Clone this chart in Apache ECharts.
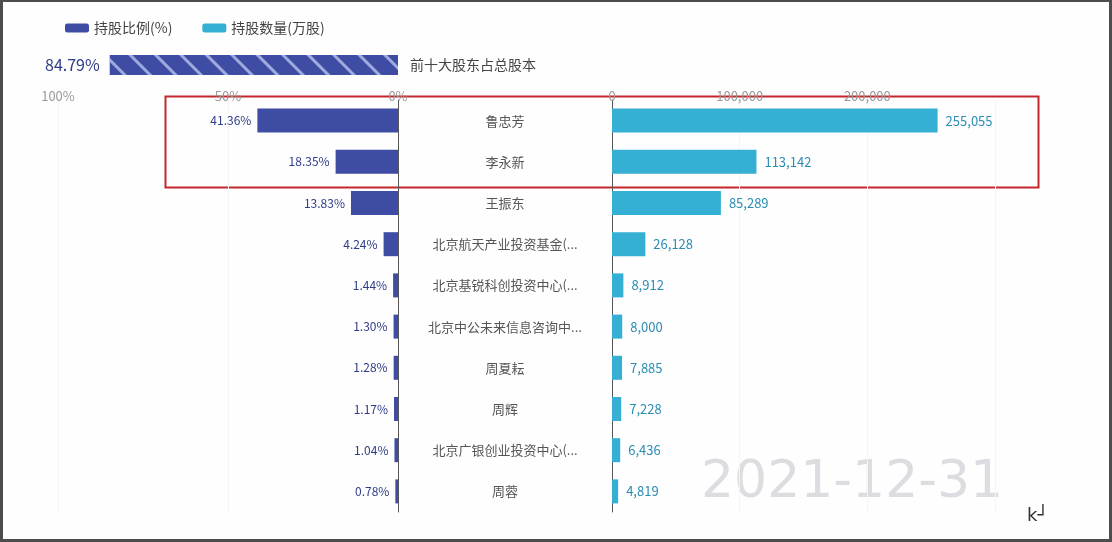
<!DOCTYPE html>
<html><head><meta charset="utf-8">
<script src="https://cdn.jsdelivr.net/npm/echarts@6/dist/echarts.min.js"></script>
<style>
html,body{margin:0;padding:0;background:#fff;}
#c{width:1112px;height:542px;box-sizing:border-box;border:3px solid #4d4d4d;border-top-width:2px;background:#fefeff;}
</style></head>
<body><div id="c"></div>
<script>
const names = ['鲁忠芳','李永新','王振东','北京航天产业投资基金(...','北京基锐科创投资中心(...','北京中公未来信息咨询中...','周夏耘','周辉','北京广银创业投资中心(...','周蓉'];
const ratio = [41.36,18.35,13.83,4.24,1.44,1.30,1.28,1.17,1.04,0.78];
const shares = [255055,113142,85289,26128,8912,8000,7885,7228,6436,4819];
const totalLabel = ['前十大股东占总股本'];
const totalRatio = [84.79];
const seriesNames = ['持股比例(%)','持股数量(万股)'];
const dateText = '2021-12-31';

const BLUE = '#3e4da3', CYAN = '#35afd3';
const fmt = v => String(v).replace(/\B(?=(\d{3})+(?!\d))/g, ',');
const font = 'Noto Sans CJK SC';

const chart = echarts.init(document.getElementById('c'));
chart.setOption({
  textStyle:{fontFamily:font},
  legend:{data:seriesNames, left:57, top:14, itemWidth:24, itemHeight:9, itemGap:30,
    textStyle:{fontSize:14,color:'#444',fontFamily:font}},
  grid:[
    {left:55, top:98, width:340, height:412},
    {left:609, top:98, width:383, height:412},
    {left:55, top:53, width:340, height:20}
  ],
  xAxis:[
    {gridIndex:0, type:'value', inverse:true, min:0, max:100, interval:50, position:'top',
     axisLabel:{formatter:'{value}%', color:'#999', fontSize:13, margin:-3},
     axisLine:{show:false}, axisTick:{show:false},
     splitLine:{show:true, lineStyle:{color:'#f4f5f8'}}},
    {gridIndex:1, type:'value', min:0, max:300000, interval:100000, position:'top',
     axisLabel:{formatter:v=>fmt(v), color:'#999', fontSize:13, margin:-3, showMaxLabel:false},
     axisLine:{show:false}, axisTick:{show:false},
     splitLine:{show:true, lineStyle:{color:'#f4f5f8'}}},
    {gridIndex:2, type:'value', inverse:true, min:0, max:100, show:false}
  ],
  yAxis:[
    {gridIndex:0, type:'category', data:names, inverse:true, position:'right',
     axisLine:{show:true, lineStyle:{color:'#555'}}, axisTick:{show:false},
     axisLabel:{align:'center', margin:107, color:'#555', fontSize:13, fontFamily:font}},
    {gridIndex:1, type:'category', data:names, inverse:true, position:'left',
     axisLine:{show:true, lineStyle:{color:'#555'}}, axisTick:{show:false},
     axisLabel:{show:false}},
    {gridIndex:2, type:'category', data:totalLabel, position:'right',
     axisLine:{show:false}, axisTick:{show:false},
     axisLabel:{align:'left', margin:12, color:'#444', fontSize:14, fontFamily:font}}
  ],
  series:[
    {name:seriesNames[0], type:'bar', xAxisIndex:0, yAxisIndex:0, data:ratio, barWidth:24,
     itemStyle:{color:BLUE},
     label:{show:true, position:'left', formatter:p=>p.value.toFixed(2)+'%', color:'#2e3b86', fontSize:12, distance:6}},
    {name:seriesNames[1], type:'bar', xAxisIndex:1, yAxisIndex:1, data:shares, barWidth:24,
     itemStyle:{color:CYAN},
     label:{show:true, position:'right', formatter:p=>fmt(p.value), color:'#2a8db3', fontSize:13, distance:8}},
    {name:'total', type:'bar', xAxisIndex:2, yAxisIndex:2, data:totalRatio, barWidth:20,
     itemStyle:{color:BLUE, decal:{symbol:'rect', color:'rgba(200,210,245,0.7)', dashArrayX:[1,0], dashArrayY:[3,15], rotation:Math.PI/4}},
     label:{show:true, position:'left', formatter:p=>p.value.toFixed(2)+'%', color:'#2e3b86', fontSize:16, distance:10}}
  ],
  graphic:[
    {type:'rect', left:160, top:92, shape:{width:873, height:91},
     style:{fill:'none', stroke:'#c3262d', lineWidth:2}},
    {type:'text', left:698, top:455, style:{text:dateText, fill:'#dcdde0', font:'52px "DejaVu Sans"'}},
    {type:'text', left:1024, top:505, style:{text:'k┘', fill:'#333', font:'18px "DejaVu Sans"'}}
  ]
});
</script></body></html>
